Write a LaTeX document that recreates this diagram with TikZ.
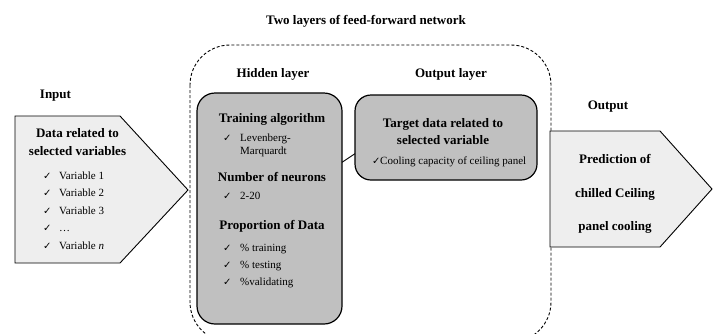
\documentclass[tikz,border=0pt]{standalone}
\usepackage{fontspec}
\setmainfont{Liberation Serif}
\newfontfamily\symfont{DejaVu Sans}
\usetikzlibrary{calc}
\definecolor{paleface}{HTML}{EEEEEE}
\definecolor{panelface}{HTML}{C0C0C0}
\newcommand\tick{{\symfont\fontsize{10}{10}\selectfont ✓}}
\newcommand\titem[2][16pt]{\makebox[#1][l]{\tick}#2}

\begin{document}
\begin{tikzpicture}[x=1pt,y=-1pt,
  hdr/.style={font=\fontsize{13}{18}\selectfont\bfseries, inner sep=0pt, anchor=base},
  item/.style={font=\fontsize{11}{13}\selectfont, inner sep=0pt, anchor=base west},
  panel/.style={draw, line width=1.2pt, fill=panelface, inner sep=0pt, outer sep=0pt, anchor=north west},
  arrowbox/.style={draw, line width=0.9pt, fill=paleface, line join=miter},
  frame/.style={draw, line width=0.9pt, dash pattern=on 3pt off 2pt, rounded corners=40pt}]
\useasboundingbox (0,0) rectangle (717,333);
\fill[white] (0,0) rectangle (717,333);

% title and dashed frame of the two network layers
\node[hdr] (title) at (366,24) {Two layers of feed-forward network};
\path[frame] (190,45) rectangle (551,342);

% input block
\node[hdr] (inlabel) at (55.5,98) {Input};
\path[arrowbox] (15,116) -- (120,116) -- (188,190) -- (120,263) -- (15,263) -- cycle;
\node[hdr] (inh1) at (77.5,137.5) {Data related to};
\node[hdr] (inh2) at (77.5,155.5) {selected variables};
\node[item] (in1) at (43,179.5) {\titem{Variable 1}};
\node[item] (in2) at (43,196.9) {\titem{Variable 2}};
\node[item] (in3) at (43,214.3) {\titem{Variable 3}};
\node[item] (in4) at (43,231.7) {\titem{\ldots}};
\node[item] (in5) at (43,249.1) {\titem{Variable \textit{n}}};

% hidden layer
\node[hdr] (hidlabel) at (273,77.5) {Hidden layer};
\node[panel, rounded corners=18pt, minimum width=145pt, minimum height=231pt] (hid) at (197,93) {};
\node[hdr] (hh1) at (272,122.5) {Training algorithm};
\node[item] (hi1) at (223,141) {\titem[17pt]{Levenberg-}};
\node[item] (hi2) at (240,154.5) {Marquardt};
\node[hdr] (hh2) at (272,181) {Number of neurons};
\node[item] (hi3) at (223,199.5) {\titem[17pt]{2-20}};
\node[hdr] (hh3) at (272,229.5) {Proportion of Data};
\node[item] (hi4) at (223,251.5) {\titem[17pt]{\% training}};
\node[item] (hi5) at (223,268.5) {\titem[17pt]{\% testing}};
\node[item] (hi6) at (223,285.5) {\titem[17pt]{\%validating}};

% output layer
\node[hdr] (outlabel) at (451,77.5) {Output layer};
\node[panel, rounded corners=16pt, minimum width=182pt, minimum height=85pt] (olay) at (355,95) {};
\node[hdr] (oh1) at (443,127.5) {Target data related to};
\node[hdr] (oh2) at (443,144.5) {selected variable};
\node[item] (oi1) at (372,164) {\titem[8pt]{Cooling capacity of ceiling panel}};

% link between the two layers
\coordinate (hidport) at ($(hid.north east)!0.30!(hid.south east)$);
\coordinate (olayport) at ($(olay.north west)!0.69!(olay.south west)$);
\draw[line width=0.9pt] (hidport) -- (olayport);

% output block
\node[hdr] (reslabel) at (608,109.5) {Output};
\path[arrowbox] (550,131) -- (660,131) -- (712,189) -- (660,247) -- (550,247) -- cycle;
\node[hdr] (r1) at (615,163.5) {Prediction of};
\node[hdr] (r2) at (615,197.5) {chilled Ceiling};
\node[hdr] (r3) at (615,230.5) {panel cooling};
\end{tikzpicture}
\end{document}
